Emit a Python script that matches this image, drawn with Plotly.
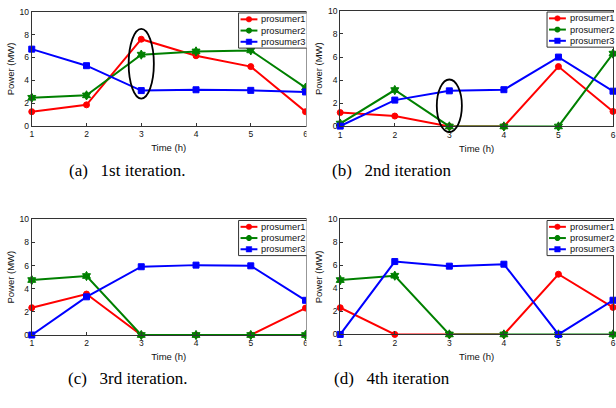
import plotly.graph_objects as go

# ---------------- data ----------------
hours = [1, 2, 3, 4, 5, 6]
series_names = ["prosumer1", "prosumer2", "prosumer3"]

iter1_p1 = [1.25, 1.85, 7.6, 6.15, 5.2, 1.25]
iter1_p2 = [2.47, 2.68, 6.25, 6.53, 6.62, 3.35]
iter1_p3 = [6.73, 5.28, 3.1, 3.17, 3.12, 2.98]

iter2_p1 = [1.2, 0.9, 0, 0, 5.18, 1.3]
iter2_p2 = [0.25, 3.15, 0, 0, 0, 6.3]
iter2_p3 = [0.03, 2.28, 3.08, 3.18, 6.0, 3.05]

iter3_p1 = [2.36, 3.54, 0, 0, 0, 2.33]
iter3_p2 = [4.75, 5.1, 0, 0, 0, 0]
iter3_p3 = [0, 3.3, 5.9, 6.04, 5.98, 3.0]

iter4_p1 = [2.32, 0, 0, 0, 5.23, 2.35]
iter4_p2 = [4.72, 5.1, 0, 0, 0, 0]
iter4_p3 = [0, 6.33, 5.93, 6.1, 0, 2.97]

captions = ["(a)\u2002 1st iteration.", "(b)\u2002 2nd iteration",
            "(c)\u2002 3rd iteration.", "(d)\u2002 4th iteration"]
x_ticks = [1, 2, 3, 4, 5, 6]
y_ticks = [0, 2, 4, 6, 8, 10]
x_title = "Time (h)"
y_title = "Power (MW)"

panel_data = [
    [iter1_p1, iter1_p2, iter1_p3],
    [iter2_p1, iter2_p2, iter2_p3],
    [iter3_p1, iter3_p2, iter3_p3],
    [iter4_p1, iter4_p2, iter4_p3],
]

# ---------------- styling / layout ----------------
W, H = 616, 408
colors = ["#FF0000", "#008000", "#0000FF"]
symbols = ["circle", "hexagram", "square"]
msizes = [6, 7, 6]

# panel boxes in pixels (left, right, top, bottom)
panels = [
    (30, 306, 7, 124),
    (341, 616, 6, 124.5),
    (30, 306, 219.7, 338.3),
    (341, 616, 219.7, 337.7),
]
caption_pos = [(127, 170), (393, 170), (127, 383), (393, 383)]

def px(xp):
    return xp / W

def py(yp):
    return 1 - yp / H

SANS = "Liberation Sans, Arial, sans-serif"
SERIF = "Liberation Serif, Times New Roman, serif"

fig = go.Figure()
layout = dict(
    width=W, height=H,
    margin=dict(l=0, r=0, t=0, b=0),
    paper_bgcolor="white", plot_bgcolor="rgba(0,0,0,0)",
    showlegend=False,
    font=dict(family=SANS, color="#111"),
)

shapes = []
annotations = []

for i, (series, box) in enumerate(zip(panel_data, panels)):
    n = i + 1
    xa = "x" if n == 1 else f"x{n}"
    ya = "y" if n == 1 else f"y{n}"
    l, r, t, b = box
    for k in range(3):
        fig.add_trace(go.Scatter(
            x=hours, y=series[k], name=series_names[k],
            mode="lines+markers",
            line=dict(color=colors[k], width=2),
            marker=dict(symbol=symbols[k], size=msizes[k], color=colors[k],
                        line=dict(color=colors[k], width=1)),
            cliponaxis=False,
            xaxis=xa, yaxis=ya,
        ))
    axcommon = dict(showline=True, linecolor="#333", linewidth=1, mirror=True,
                    ticks="inside", ticklen=3, tickcolor="#333", showgrid=False,
                    zeroline=False, tickfont=dict(size=8.5, family=SANS, color="#111"))
    layout["xaxis" if n == 1 else f"xaxis{n}"] = dict(
        axcommon, domain=[px(l), px(r)], range=[1, 6], tickvals=x_ticks,
        anchor=ya,
        title=dict(text=x_title, font=dict(size=9.5, family=SANS, color="#111"), standoff=6),
    )
    layout["yaxis" if n == 1 else f"yaxis{n}"] = dict(
        axcommon, domain=[py(b), py(t)], range=[0, 10], tickvals=y_ticks,
        anchor=xa,
        title=dict(text=y_title, font=dict(size=9.5, family=SANS, color="#111"), standoff=3),
    )

    # legend box (drawn as shapes + text)
    lg_l = l + 208.5
    lg_t = t + 1.2
    lg_b = lg_t + 36
    lg_r = 307 if r < 400 else 617
    shapes.append(dict(
        type="path", xref="paper", yref="paper", layer="above",
        path=f"M {px(lg_r)},{py(lg_t)} L {px(lg_l)},{py(lg_t)} L {px(lg_l)},{py(lg_b)} L {px(lg_r)},{py(lg_b)}",
        fillcolor="white", line=dict(color="#333", width=1),
    ))
    for k in range(3):
        ey = lg_t + 6.5 + k * 11.5
        shapes.append(dict(type="line", xref="paper", yref="paper", layer="above",
                           x0=px(lg_l + 2), x1=px(lg_l + 19), y0=py(ey), y1=py(ey),
                           line=dict(color=colors[k], width=2)))
        mx = lg_l + 10.5
        if k == 0:
            shapes.append(dict(type="circle", xref="paper", yref="paper", layer="above",
                               x0=px(mx - 2.8), x1=px(mx + 2.8), y0=py(ey - 2.8), y1=py(ey + 2.8),
                               fillcolor=colors[k], line=dict(color=colors[k], width=0.5)))
        elif k == 1:
            d = 3.0
            path = (f"M {px(mx-d)},{py(ey)} L {px(mx+d)},{py(ey)} "
                    f"M {px(mx)},{py(ey-d)} L {px(mx)},{py(ey+d)} "
                    f"M {px(mx-d*0.7)},{py(ey-d*0.7)} L {px(mx+d*0.7)},{py(ey+d*0.7)} "
                    f"M {px(mx-d*0.7)},{py(ey+d*0.7)} L {px(mx+d*0.7)},{py(ey-d*0.7)}")
            shapes.append(dict(type="path", xref="paper", yref="paper", layer="above",
                               path=path, line=dict(color=colors[k], width=2)))
        else:
            shapes.append(dict(type="rect", xref="paper", yref="paper", layer="above",
                               x0=px(mx - 2.8), x1=px(mx + 2.8), y0=py(ey - 2.8), y1=py(ey + 2.8),
                               fillcolor=colors[k], line=dict(color=colors[k], width=0.5)))
        annotations.append(dict(
            text=series_names[k], xref="paper", yref="paper",
            x=px(lg_l + 21), y=py(ey), xanchor="left", yanchor="middle",
            showarrow=False, font=dict(size=9.3, family=SANS, color="#111"),
        ))

    cx, cy = caption_pos[i]
    annotations.append(dict(
        text=captions[i], xref="paper", yref="paper", x=px(cx), y=py(cy),
        xanchor="center", yanchor="middle", showarrow=False,
        font=dict(size=17, family=SERIF, color="black"),
    ))

# highlight ellipses (in data units of panels a and b), converted to paper coords
def data_to_px(box, xv, yv):
    l, r, t, b = box
    return l + (xv - 1) / 5 * (r - l), b - yv / 10 * (b - t)

ellipses = [(0, 2.77, 3.23, 2.4, 8.5), (1, 2.77, 3.23, -0.48, 4.06)]
for pi, xa0, xa1, ya0, ya1 in ellipses:
    x0p, y0p = data_to_px(panels[pi], xa0, ya0)
    x1p, y1p = data_to_px(panels[pi], xa1, ya1)
    shapes.insert(0, dict(type="circle", xref="paper", yref="paper", layer="above",
                          x0=px(x0p), x1=px(x1p), y0=py(y0p), y1=py(y1p),
                          line=dict(color="black", width=1.8)))

# crop strip between left and right column (the source image was cut there)
shapes.insert(len(ellipses), dict(type="rect", xref="paper", yref="paper", layer="above",
                                  x0=px(307), x1=px(314), y0=0, y1=1,
                                  fillcolor="white", line=dict(width=0)))

layout["shapes"] = shapes
layout["annotations"] = annotations
fig.update_layout(**layout)

fig.write_html("out.html", config={"displayModeBar": False},
               post_script="document.body.style.margin='0';document.body.style.overflow='hidden';")
